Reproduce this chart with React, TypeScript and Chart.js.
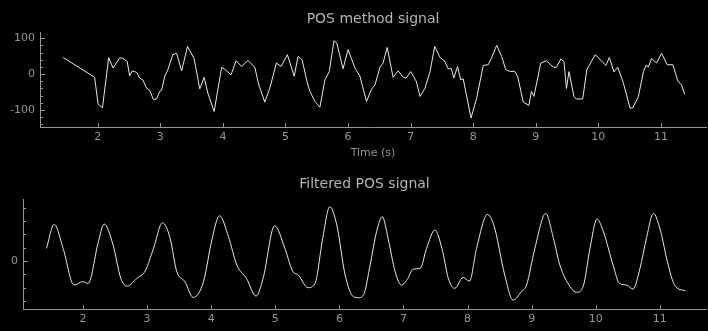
import React, { useEffect, useRef } from "react";
import { Chart, registerables } from "chart.js";

Chart.register(...registerables);

// ---- data ----
const posTime = [
  1.447, 1.95, 2.005, 2.075, 2.175, 2.244, 2.35, 2.4, 2.47, 2.51, 2.55, 2.62, 2.67, 2.72, 2.78, 2.83, 2.89, 2.94,
  2.99, 3.02, 3.07, 3.12, 3.2, 3.26, 3.34, 3.435, 3.54, 3.63, 3.7, 3.76, 3.86, 3.98, 4.04, 4.13, 4.21, 4.3,
  4.4, 4.51, 4.57, 4.67, 4.75, 4.855, 4.93, 5.03, 5.14, 5.2, 5.265, 5.35, 5.39, 5.47, 5.55, 5.63, 5.7, 5.775,
  5.82, 5.92, 6.0, 6.11, 6.19, 6.295, 6.375, 6.43, 6.51, 6.56, 6.625, 6.72, 6.8, 6.88, 6.93, 7.0, 7.09, 7.15,
  7.23, 7.31, 7.385, 7.47, 7.54, 7.6, 7.65, 7.69, 7.75, 7.8, 7.84, 7.965, 8.055, 8.16, 8.24, 8.29, 8.375, 8.455,
  8.52, 8.6, 8.66, 8.71, 8.8, 8.89, 8.93, 8.97, 9.08, 9.17, 9.28, 9.33, 9.4, 9.45, 9.49, 9.53, 9.61, 9.645,
  9.75, 9.815, 9.95, 10.12, 10.175, 10.25, 10.31, 10.4, 10.505, 10.55, 10.64, 10.72, 10.76, 10.8, 10.85, 10.93,
  11.01, 11.1, 11.19, 11.27, 11.33, 11.38,
];
const posValues = [
  46, -9, -83, -94, 46, 17, 45, 44, 35, -5, 9, 5, -11, -16, -39, -45, -71, -69,
  -48, -45, -6, 12, 54, 58, 9, 77, 43, -41, -9, -53, -104, 19, 12, -2, 37, 21,
  38, 19, -28, -78, -39, 31, 21, 54, -6, 49, 40, -25, -48, -76, -92, -16, 7, 93,
  86, 15, 68, 17, -6, -76, -42, -30, 19, 31, 74, -9, 9, -9, -11, 7, -20, -62,
  -39, 7, 77, 46, 37, 15, 15, -11, 21, -16, -13, -122, -67, 24, 26, 44, 80, 49,
  12, 7, 8, -6, -78, -87, -48, -62, 31, 37, 19, 19, 42, 35, -40, 7, -62, -69,
  -69, 12, 54, 24, 46, 6, 19, -25, -94, -94, -62, 7, 24, 20, 43, 31,
  58, 26, 26, -19, -31, -56,
];

const filtTime = [
  1.43, 1.55, 1.69, 1.86, 1.995, 2.08, 2.24, 2.33, 2.47, 2.59, 2.69, 2.84, 2.97, 3.1, 3.24, 3.36, 3.46, 3.59,
  3.72, 3.88, 4.01, 4.13, 4.27, 4.4, 4.55, 4.7, 4.81, 4.99, 5.15, 5.27, 5.36, 5.51, 5.62, 5.74, 5.85, 5.96,
  6.09, 6.22, 6.3, 6.38, 6.48, 6.58, 6.67, 6.76, 6.87, 6.97, 7.07, 7.15, 7.26, 7.36, 7.49, 7.6, 7.7, 7.8,
  7.93, 8.03, 8.14, 8.31, 8.41, 8.58, 8.71, 8.84, 8.92, 9.05, 9.22, 9.34, 9.44, 9.6, 9.7, 9.81, 9.91, 10.02,
  10.12, 10.27, 10.37, 10.48, 10.58, 10.69, 10.79, 10.9, 11.0, 11.13, 11.23, 11.4,
];
const filtValues = [
  0.95, 2.76, 0.95, -1.8, -1.55, -1.68, 1.45, 2.78, 1.2, -1.3, -1.88, -1.3, -0.75, 0.95, 2.88, 1.7, -0.75, -1.55,
  -2.73, -1.55, 1.58, 3.4, 1.83, -0.3, -1.3, -2.63, -1.3, 2.65, 0.95, -0.75, -1.05, -2.0, -1.68, 1.7, 4.08, 2.7,
  -1.05, -2.68, -2.75, -2.5, -0.3, 2.2, 3.33, 1.7, -0.8, -1.8, -1.3, -0.6, -0.55, 0.95, 2.33, 0.95, -1.3, -2.05,
  -1.23, -1.5, 0.95, 3.5, 2.7, -1.05, -2.93, -2.3, -1.8, 0.95, 3.58, 1.7, -0.3, -1.93, -2.35, -1.8, 0.95, 3.15,
  2.2, -0.3, -1.68, -1.8, -2.1, -0.55, 1.7, 3.58, 2.45, -0.3, -1.8, -2.25,
];

const timeTicks = [2, 3, 4, 5, 6, 7, 8, 9, 10, 11];
const posYTicks = [-140, -120, -100, -80, -60, -40, -20, 0, 20, 40, 60, 80, 100];
const posYLabels = [-100, 0, 100];
const filtYTicks = [-3, -2, -1, 0, 1, 2, 3, 4];
const filtYLabels = [0];

const posTitle = "POS method signal";
const filtTitle = "Filtered POS signal";
const xAxisTitle = "Time (s)";

// ---- styles ----
const AXIS = "#969696";
const TITLE_COLOR = "#b4b4b4";
const LINE = "#e8e8e8";
const FONT = "'DejaVu Sans', Verdana, sans-serif";

type PanelCfg = {
  time: number[];
  values: number[];
  smooth: boolean;
  title: string;
  xTitle: string | null;
  xMin: number;
  xMax: number;
  yMin: number;
  yMax: number;
  yTicks: number[];
  yLabels: number[];
  padTop: number;
  xHeight: number;
  yWidth: number;
  height: number;
};

function overlayPlugin(cfg: PanelCfg) {
  return {
    id: "overlay",
    afterDraw(chart: any) {
      const ctx = chart.ctx as CanvasRenderingContext2D;
      const area = chart.chartArea;
      const xs = chart.scales.x;
      const ys = chart.scales.y;
      ctx.save();
      ctx.strokeStyle = AXIS;
      ctx.lineWidth = 1;
      ctx.beginPath();
      for (const v of timeTicks) {
        const px = Math.round(xs.getPixelForValue(v)) + 0.5;
        ctx.moveTo(px, area.bottom);
        ctx.lineTo(px, area.bottom - 4);
      }
      for (const v of cfg.yTicks) {
        const py = Math.round(ys.getPixelForValue(v)) + 0.5;
        const len = cfg.yLabels.includes(v) ? 5 : 3;
        ctx.moveTo(area.left, py);
        ctx.lineTo(area.left + len, py);
      }
      ctx.stroke();
      ctx.fillStyle = TITLE_COLOR;
      ctx.font = `14px ${FONT}`;
      ctx.textAlign = "center";
      ctx.textBaseline = "middle";
      const cx = (area.left + area.right) / 2;
      ctx.fillText(cfg.title, cx, 19);
      if (cfg.xTitle) {
        ctx.fillStyle = AXIS;
        ctx.font = `11px ${FONT}`;
        ctx.fillText(cfg.xTitle, cx, area.bottom + 26);
      }
      ctx.restore();
    },
  };
}

function Panel({ cfg }: { cfg: PanelCfg }) {
  const ref = useRef<HTMLCanvasElement | null>(null);
  useEffect(() => {
    if (!ref.current) return;
    const data = cfg.time.map((t, i) => ({ x: t, y: cfg.values[i] }));
    const chart = new Chart(ref.current, {
      type: "line",
      data: {
        datasets: [
          {
            data,
            borderColor: LINE,
            borderWidth: 1,
            pointRadius: 0,
            fill: false,
            tension: cfg.smooth ? 0.4 : 0,
            cubicInterpolationMode: cfg.smooth ? "monotone" : "default",
          } as any,
        ],
      },
      options: {
        animation: false,
        responsive: false,
        maintainAspectRatio: false,
        layout: { padding: { top: cfg.padTop, right: 2, left: 0, bottom: 0 } },
        plugins: {
          legend: { display: false },
          tooltip: { enabled: false },
          title: { display: false },
        },
        scales: {
          x: {
            type: "linear",
            min: cfg.xMin,
            max: cfg.xMax,
            afterBuildTicks: (s: any) => {
              s.ticks = timeTicks.map((v) => ({ value: v }));
            },
            afterFit: (s: any) => {
              s.height = cfg.xHeight;
            },
            grid: { display: false, drawTicks: false },
            border: { display: true, color: AXIS, width: 1 },
            ticks: {
              color: AXIS,
              font: { family: FONT, size: 11 },
              padding: 4,
              autoSkip: false,
              maxRotation: 0,
              callback: (v: any) => String(v),
            },
          },
          y: {
            type: "linear",
            min: cfg.yMin,
            max: cfg.yMax,
            afterBuildTicks: (s: any) => {
              s.ticks = cfg.yTicks.map((v) => ({ value: v }));
            },
            afterFit: (s: any) => {
              s.width = cfg.yWidth;
            },
            grid: { display: false, drawTicks: false },
            border: { display: true, color: AXIS, width: 1 },
            ticks: {
              color: AXIS,
              font: { family: FONT, size: 11 },
              padding: 5,
              autoSkip: false,
              callback: (v: any) => (cfg.yLabels.includes(Number(v)) ? String(v) : ""),
            },
          },
        },
      } as any,
      plugins: [overlayPlugin(cfg)],
    });
    return () => chart.destroy();
  }, [cfg]);
  return <canvas ref={ref} width={708} height={cfg.height} style={{ display: "block", width: 708, height: cfg.height }} />;
}

const topCfg: PanelCfg = {
  time: posTime,
  values: posValues,
  smooth: false,
  title: posTitle,
  xTitle: xAxisTitle,
  xMin: 1.077,
  xMax: 11.72,
  yMin: -147,
  yMax: 117,
  yTicks: posYTicks,
  yLabels: posYLabels,
  padTop: 32,
  xHeight: 38,
  yWidth: 40,
  height: 165,
};

const bottomCfg: PanelCfg = {
  time: filtTime,
  values: filtValues,
  smooth: true,
  title: filtTitle,
  xTitle: null,
  xMin: 1.064,
  xMax: 11.72,
  yMin: -3.6,
  yMax: 4.66,
  yTicks: filtYTicks,
  yLabels: filtYLabels,
  padTop: 34,
  xHeight: 22,
  yWidth: 23,
  height: 166,
};

export default function App() {
  return (
    <div style={{ position: "fixed", left: 0, top: 0, width: 708, height: 331, background: "#000", overflow: "hidden" }}>
      <Panel cfg={topCfg} />
      <Panel cfg={bottomCfg} />
    </div>
  );
}
